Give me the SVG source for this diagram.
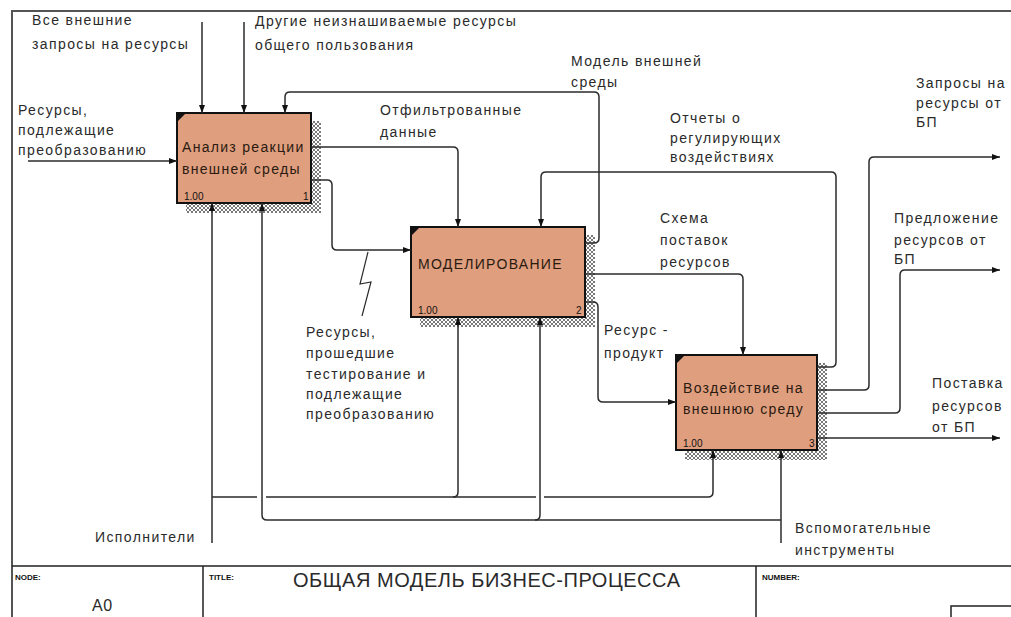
<svg xmlns="http://www.w3.org/2000/svg" width="1011" height="617" viewBox="0 0 1011 617">
<style>
.lbl{font-family:"Liberation Sans",Arial,sans-serif;font-size:14px;letter-spacing:1.4px;fill:#2a2a2a}
.box{fill:#DF9E7E;stroke:#111;stroke-width:2}
.btxt{font-family:"Liberation Sans",Arial,sans-serif;font-size:14px;letter-spacing:1.3px;fill:#2a1a10}
.num{font-family:"Liberation Sans",Arial,sans-serif;font-size:10px;fill:#111}
.shadow{fill:url(#hatch)}
.cn{fill:none;stroke:#2b2b2b;stroke-width:1.5}
.frame{fill:none;stroke:#555;stroke-width:2}
.tb{fill:none;stroke:#222;stroke-width:1.5}
.tbl{font-family:"Liberation Sans",Arial,sans-serif;font-size:8px;font-weight:bold;fill:#111}
</style>
<defs>
<pattern id="hatch" width="4" height="4" patternUnits="userSpaceOnUse">
<rect width="4" height="4" fill="#fff"/>
<path d="M0,4 L4,0 M0,0 L4,4" stroke="#6a6a6a" stroke-width="0.9"/>
</pattern>
<marker id="ah" viewBox="0 0 8 8" refX="8" refY="4" markerWidth="8" markerHeight="8" markerUnits="userSpaceOnUse" orient="auto">
<path d="M0,1 L8,4 L0,7 z" fill="#111"/>
</marker>
</defs>
<rect width="1011" height="617" fill="#fff"/>

<!-- frame and title block -->
<g id="frame">
<path class="frame" d="M12,617 V11 H1011"/>
<path class="tb" d="M12,566 H1011 M203,566 V617 M756,566 V617 M951,617 V606 H1011"/>
<text class="tbl" x="15" y="580">NODE:</text>
<text class="tbl" x="209" y="580">TITLE:</text>
<text class="tbl" x="762" y="580">NUMBER:</text>
<text class="lbl" x="92" y="611" style="font-size:16px;letter-spacing:0.5px">A0</text>
<text class="lbl" x="293" y="587" style="font-size:20px;letter-spacing:0px" textLength="387" lengthAdjust="spacing">ОБЩАЯ МОДЕЛЬ БИЗНЕС-ПРОЦЕССА</text>
</g>

<!-- node 1 -->
<g id="node-A1">
<rect class="shadow" x="311" y="121" width="10" height="92"/>
<rect class="shadow" x="186" y="203" width="135" height="10"/>
<rect class="box" x="177" y="113" width="134" height="90"/>
<path d="M178,114 h7 l-7,7 z" fill="#111"/>
<text class="btxt" x="182" y="152">Анализ реакции</text>
<text class="btxt" x="182" y="174">внешней среды</text>
<text class="num" x="184" y="200">1.00</text>
<text class="num" x="303" y="200">1</text>
</g>

<!-- node 2 -->
<g id="node-A2">
<rect class="shadow" x="585" y="235" width="10" height="92"/>
<rect class="shadow" x="420" y="317" width="175" height="10"/>
<rect class="box" x="411" y="227" width="174" height="90"/>
<path d="M412,228 h7 l-7,7 z" fill="#111"/>
<text class="btxt" x="418" y="269">МОДЕЛИРОВАНИЕ</text>
<text class="num" x="418" y="314">1.00</text>
<text class="num" x="576" y="314">2</text>
</g>

<!-- node 3 -->
<g id="node-A3">
<rect class="shadow" x="817" y="363" width="10" height="97"/>
<rect class="shadow" x="685" y="450" width="142" height="10"/>
<rect class="box" x="676" y="355" width="141" height="95"/>
<path d="M677,356 h7 l-7,7 z" fill="#111"/>
<text class="btxt" x="683" y="393">Воздействие на</text>
<text class="btxt" x="683" y="414">внешнюю среду</text>
<text class="num" x="683" y="447">1.00</text>
<text class="num" x="809" y="447">3</text>
</g>

<!-- connectors -->
<g id="connectors">
<path class="cn" d="M202,22 V113" marker-end="url(#ah)"/>
<path class="cn" d="M244,22 V113" marker-end="url(#ah)"/>
<path class="cn" d="M28,161 H177" marker-end="url(#ah)"/>
<path class="cn" d="M585,243 H594 Q599,243 599,238 V97 Q599,92 594,92 H290 Q285,92 285,97 V113" marker-end="url(#ah)"/>
<path class="cn" d="M311,147 H453 Q458,147 458,152 V227" marker-end="url(#ah)"/>
<path class="cn" d="M311,180 H327 Q332,180 332,185 V245 Q332,250 337,250 H411" marker-end="url(#ah)"/>
<path class="cn" d="M817,367 H831 Q836,367 836,362 V177 Q836,172 831,172 H546 Q541,172 541,177 V227" marker-end="url(#ah)"/>
<path class="cn" d="M585,274 H738 Q743,274 743,279 V355" marker-end="url(#ah)"/>
<path class="cn" d="M585,302 H593 Q598,302 598,307 V397 Q598,402 603,402 H676" marker-end="url(#ah)"/>
<path class="cn" d="M817,390 H864 Q869,390 869,385 V162 Q869,157 874,157 H1000" marker-end="url(#ah)"/>
<path class="cn" d="M817,413 H895 Q900,413 900,408 V275 Q900,270 905,270 H1000" marker-end="url(#ah)"/>
<path class="cn" d="M817,438 H1000" marker-end="url(#ah)"/>
<path class="cn" d="M212,543 V203" marker-end="url(#ah)"/>
<path class="cn" d="M212,497 H257 M266,497 H536 M544,497 H708 Q713,497 713,492 V450" marker-end="url(#ah)"/>
<path class="cn" d="M453,497 Q458,497 458,492 V317" marker-end="url(#ah)"/>
<path class="cn" d="M781,543 V450" marker-end="url(#ah)"/>
<path class="cn" d="M781,520 H267 Q262,520 262,515 V203" marker-end="url(#ah)"/>
<path class="cn" d="M535,520 Q540,520 540,515 V317" marker-end="url(#ah)"/>
<path class="cn" d="M368,252 L360,284 L371,282 L362,316" style="stroke-width:1.2"/>
</g>

<!-- labels -->
<g id="labels">
<text class="lbl" x="32" y="25">Все внешние</text>
<text class="lbl" x="32" y="49">запросы на ресурсы</text>
<text class="lbl" x="255" y="26">Другие неизнашиваемые ресурсы</text>
<text class="lbl" x="255" y="50">общего пользования</text>
<text class="lbl" x="18" y="115">Ресурсы,</text>
<text class="lbl" x="18" y="135">подлежащие</text>
<text class="lbl" x="18" y="155">преобразованию</text>
<text class="lbl" x="571" y="66">Модель внешней</text>
<text class="lbl" x="571" y="87">среды</text>
<text class="lbl" x="380" y="115">Отфильтрованные</text>
<text class="lbl" x="380" y="137">данные</text>
<text class="lbl" x="670" y="123">Отчеты о</text>
<text class="lbl" x="670" y="143">регулирующих</text>
<text class="lbl" x="670" y="162">воздействиях</text>
<text class="lbl" x="660" y="223">Схема</text>
<text class="lbl" x="660" y="245">поставок</text>
<text class="lbl" x="660" y="267">ресурсов</text>
<text class="lbl" x="916" y="88">Запросы на</text>
<text class="lbl" x="916" y="108">ресурсы от</text>
<text class="lbl" x="916" y="127">БП</text>
<text class="lbl" x="894" y="223">Предложение</text>
<text class="lbl" x="894" y="245">ресурсов от</text>
<text class="lbl" x="894" y="264">БП</text>
<text class="lbl" x="306" y="337">Ресурсы,</text>
<text class="lbl" x="306" y="358">прошедшие</text>
<text class="lbl" x="306" y="379">тестирование и</text>
<text class="lbl" x="306" y="399">подлежащие</text>
<text class="lbl" x="306" y="419">преобразованию</text>
<text class="lbl" x="604" y="335">Ресурс -</text>
<text class="lbl" x="604" y="358">продукт</text>
<text class="lbl" x="932" y="388">Поставка</text>
<text class="lbl" x="932" y="411">ресурсов</text>
<text class="lbl" x="932" y="432">от БП</text>
<text class="lbl" x="95" y="542">Исполнители</text>
<text class="lbl" x="795" y="533">Вспомогательные</text>
<text class="lbl" x="795" y="555">инструменты</text>
</g>
</svg>
